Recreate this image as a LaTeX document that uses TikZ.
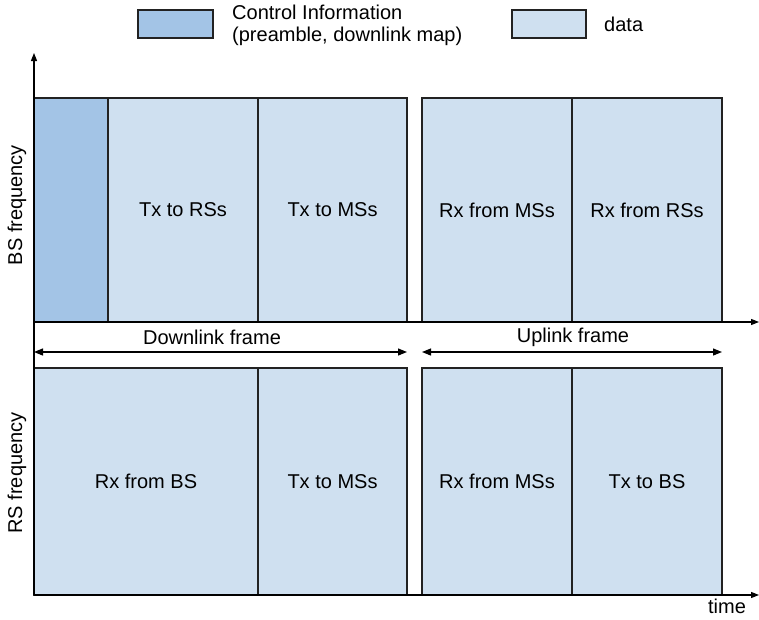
\documentclass[tikz,border=0pt]{standalone}
\usepackage{fontspec}
\setmainfont{Liberation Sans}
\usetikzlibrary{arrows.meta}
\definecolor{ctrlblue}{HTML}{A3C4E6}
\definecolor{datablue}{HTML}{CFE0F0}
\definecolor{edge}{HTML}{222222}
\tikzset{
  slot/.style={draw=edge, line width=1.4pt, fill=datablue, inner sep=0pt,
    font=\fontsize{20}{22}\selectfont},
  ctrl/.style={slot, fill=ctrlblue},
  axis/.style={draw=black, line width=1.1pt, -{Triangle[length=8pt,width=6pt]}},
  span/.style={draw=black, line width=1.2pt,
    {Triangle[length=9pt,width=7pt]}-{Triangle[length=9pt,width=7pt]}},
  lbl/.style={font=\fontsize{20}{21}\selectfont, inner sep=0pt, align=left}
}
\begin{document}
\begin{tikzpicture}[x=1pt,y=-1pt]
\useasboundingbox (0,0) rectangle (759,619);

% legend
\node[ctrl, minimum width=75pt, minimum height=28pt] (lgctrl) at (175.5,24) {};
\node[lbl, anchor=west, font=\fontsize{20}{22}\selectfont] (lgctrltxt) at (232,25) {Control Information\\(preamble, downlink map)};
\node[slot, minimum width=74pt, minimum height=28pt] (lgdata) at (549,24) {};
\node[lbl, anchor=west] (lgdatatxt) at (604,24) {data};

% BS row
\node[ctrl, minimum width=74pt, minimum height=224pt] (bsctrl) at (71,210) {};
\node[slot, minimum width=150pt, minimum height=224pt] (bs1) at (183,210) {Tx to RSs};
\node[slot, minimum width=149pt, minimum height=224pt] (bs2) at (332.5,210) {Tx to MSs};
\node[slot, minimum width=150pt, minimum height=224pt] (bs3) at (497,210) {Rx from MSs};
\node[slot, minimum width=150pt, minimum height=224pt] (bs4) at (647,210) {Rx from RSs};

% RS row
\node[slot, minimum width=224pt, minimum height=227pt] (rs1) at (146,481.5) {Rx from BS};
\node[slot, minimum width=149pt, minimum height=227pt] (rs2) at (332.5,481.5) {Tx to MSs};
\node[slot, minimum width=150pt, minimum height=227pt] (rs3) at (497,481.5) {Rx from MSs};
\node[slot, minimum width=150pt, minimum height=227pt] (rs4) at (647,481.5) {Tx to BS};

% axes
\coordinate (origin) at (34,595);
\coordinate (ytop) at (34,53);
\coordinate (bsaxisL) at (34,322);
\coordinate (bsaxisR) at (759,322);
\coordinate (rsaxisR) at (759,595);
\draw[axis] (origin) -- (ytop);
\draw[axis] (bsaxisL) -- (bsaxisR);
\draw[axis] (origin) -- (rsaxisR);

% axis labels
\node[lbl, rotate=90] (bsfreq) at (17,205) {BS frequency};
\node[lbl, rotate=90] (rsfreq) at (17,473) {RS frequency};
\node[lbl] (timelbl) at (727,606) {time};

% frame spans
\coordinate (dlL) at (34,352);
\coordinate (dlR) at (407,352);
\coordinate (ulL) at (422,352);
\coordinate (ulR) at (722,352);
\draw[span] (dlL) -- (dlR);
\draw[span] (ulL) -- (ulR);
\node[lbl] (dllbl) at (212,337) {Downlink frame};
\node[lbl] (ullbl) at (573,337) {Uplink frame};
\end{tikzpicture}
\end{document}
